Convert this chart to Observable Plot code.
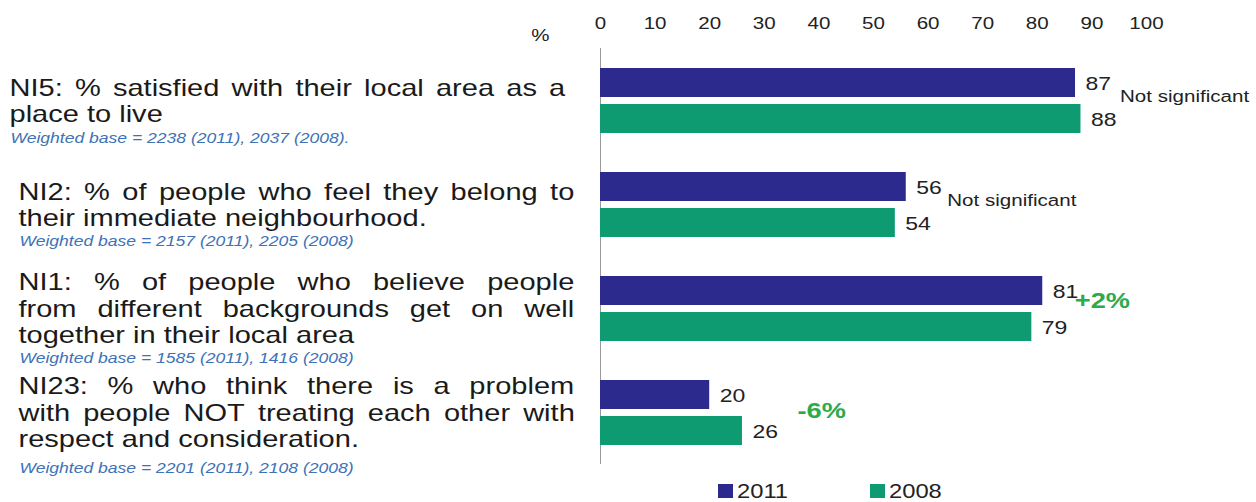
<!DOCTYPE html>
<html>
<head>
<meta charset="utf-8">
<script src="https://cdn.jsdelivr.net/npm/d3@7"></script>
<script src="https://cdn.jsdelivr.net/npm/@observablehq/plot@0.6"></script>
<style>
  html, body { margin: 0; padding: 0; background: #fff; }
  body { font-family: "Liberation Sans", Arial, sans-serif; width: 1256px; }
  .legend { position: relative; height: 24px; color: #222; }
  .legend .item { position: absolute; top: 3px; height: 20px; display: flex; align-items: center; }
  .legend .sw { width: 15px; height: 14px; margin-right: 4px; }
  .legend .lb { font-size: 21px; display: inline-block; transform: scaleX(1.13); transform-origin: 0 50%; }
</style>
</head>
<body>
<div id="chart"></div>
<div class="legend" id="legend"></div>
<script>
// ---- data ----
const categories = ["NI5", "NI2", "NI1", "NI23"];
const titleLines = [
  ["NI5: % satisfied with their local area as a", "place to live"],
  ["NI2: % of people who feel they belong to", "their immediate neighbourhood."],
  ["NI1: % of people who believe people", "from different backgrounds get on well", "together in their local area"],
  ["NI23: % who think there is a problem", "with people NOT treating each other with", "respect and consideration."]
];
const weightedBase = [
  "Weighted base = 2238 (2011), 2037 (2008).",
  "Weighted base = 2157 (2011), 2205 (2008)",
  "Weighted base = 1585 (2011), 1416 (2008)",
  "Weighted base = 2201 (2011), 2108 (2008)"
];
const years = ["2011", "2008"];
const values2011 = [87, 56, 81, 20];
const values2008 = [88, 54, 79, 26];
const notes = ["Not significant", "Not significant", "+2%", "-6%"];
const xTicks = [0, 10, 20, 30, 40, 50, 60, 70, 80, 90, 100];

// ---- styling / layout ----
const colors = ["#2c2a8d", "#0f9b72"];
const S = 1.21;                       // horizontal text stretch of the original
const indent = [9, 18, 18, 18];
const baseGap = [25, 24, 23, 29];
const noteDx = [39, 41, 32, 55];
const noteDy = [-4, -4, -8, -2];
const justifyWidth = 556;

const bars = categories.flatMap((c, i) => [
  {category: c, year: years[0], value: values2011[i]},
  {category: c, year: years[1], value: values2008[i]}
]);

const marks = [
  Plot.ruleX([0], {stroke: "#9a9a9a", strokeWidth: 1}),
  Plot.barX(bars, {x: "value", y: "year", fy: "category", fill: "year"}),
  Plot.text(bars, {x: "value", y: "year", fy: "category", text: d => String(d.value),
    textAnchor: "start", dx: 10, dy: 1, fontSize: 19, fill: "#222"}),
  Plot.axisX(xTicks, {anchor: "top", tickSize: 0, tickPadding: 20, fontSize: 17, label: null, fill: "#222"}),
  Plot.text(["%"], {fy: () => categories[0], frameAnchor: "top-left", lineAnchor: "middle", dx: -60, dy: -13,
    textAnchor: "middle", fontSize: 17, fill: "#222"})
];

categories.forEach((c, i) => {
  const n = titleLines[i].length;
  marks.push(Plot.text([titleLines[i].join("\n")], {
    fy: () => c, frameAnchor: "left", textAnchor: "start", lineAnchor: "middle",
    lineHeight: 26.5 / 24, dx: indent[i] - 600, fontSize: 24, fill: "#1a1a1a",
    ariaLabel: "title lines"
  }));
  marks.push(Plot.text([weightedBase[i]], {
    fy: () => c, frameAnchor: "left", textAnchor: "start",
    dx: indent[i] - 599, dy: (n - 1) * 13.25 + baseGap[i],
    fontSize: 14.5, fontStyle: "italic", fill: "#3d72b6", ariaLabel: "weighted base"
  }));
  const top = Math.max(values2011[i], values2008[i]);
  const isChange = notes[i] !== "Not significant";
  marks.push(Plot.text([notes[i]], {
    fy: () => c, x: () => top, textAnchor: "start", dx: noteDx[i], dy: noteDy[i],
    fontSize: isChange ? 22.5 : 17, fontWeight: isChange ? "bold" : "normal",
    fill: isChange ? "#2eaa4a" : "#222", ariaLabel: "note"
  }));
});

const plot = Plot.plot({
  width: 1256,
  height: 478,
  marginLeft: 600,
  marginRight: 110,
  marginTop: 48,
  marginBottom: 14,
  x: {domain: [0, 100]},
  y: {domain: years, axis: null, paddingInner: 0.2, paddingOuter: 0.54},
  fy: {domain: categories, axis: null, padding: 0},
  color: {domain: years, range: colors},
  style: {fontFamily: "'Liberation Sans', Arial, sans-serif", color: "#222", background: "#fff"},
  marks
});
document.getElementById("chart").append(plot);

const svgNode = plot.tagName.toLowerCase() === "svg" ? plot : plot.querySelector("svg");
const SVGNS = "http://www.w3.org/2000/svg";

// justify the non-final lines of each left label (extra space distributed between words)
const justify = new Set(titleLines.flatMap(ls => ls.slice(0, -1)));
svgNode.querySelectorAll("text, tspan").forEach(el => {
  if (el.querySelector("tspan")) return;
  const t = el.textContent.replace(/\s+/g, " ").trim();
  if (!justify.has(t)) return;
  const len = el.getComputedTextLength();
  const words = t.split(" ");
  const gap = (justifyWidth / S - len) / (words.length - 1);
  el.textContent = "";
  words.forEach((w, k) => {
    const sp = document.createElementNS(SVGNS, "tspan");
    if (k > 0) sp.setAttribute("dx", gap.toFixed(2));
    sp.textContent = (k > 0 ? " " : "") + w;
    el.appendChild(sp);
  });
});

// stretch the glyphs horizontally like in the original image
svgNode.querySelectorAll("text").forEach(el => {
  const tr = el.getAttribute("transform") || "";
  el.setAttribute("transform", (tr + ` scale(${S},1)`).trim());
});

// legend
const legend = d3.select("#legend");
const legendLeft = [718, 870];
years.forEach((y, i) => {
  const it = legend.append("span").attr("class", "item").style("left", legendLeft[i] + "px");
  it.append("span").attr("class", "sw").style("background", colors[i]);
  it.append("span").attr("class", "lb").text(y);
});
</script>
</body>
</html>
